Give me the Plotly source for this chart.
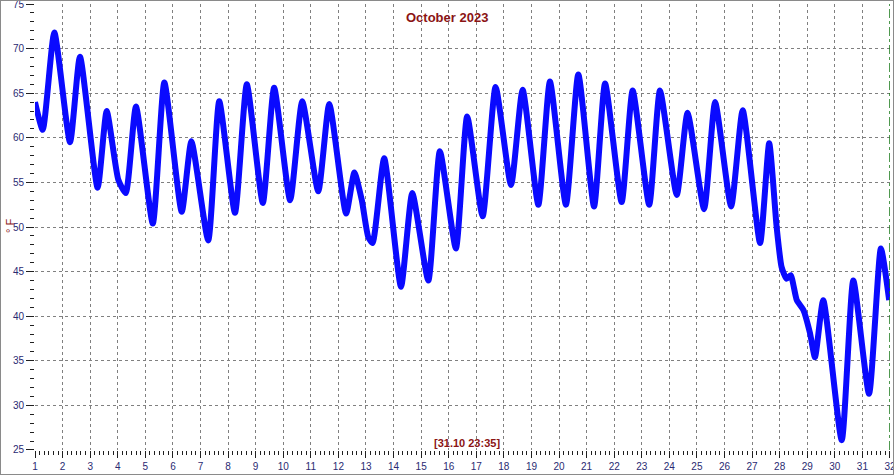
import plotly.graph_objects as go

# Day of month (fractional) and temperature (°F)
days = [1.00, 1.28, 1.70, 2.27, 2.63, 3.27, 3.60, 4.02, 4.29, 4.66, 5.27, 5.69, 6.32, 6.67,
        7.28, 7.68, 8.25, 8.68, 9.26, 9.67, 10.25, 10.69, 11.27, 11.67, 12.28, 12.58, 12.85,
        13.08, 13.24, 13.66, 14.27, 14.68, 15.26, 15.68, 16.26, 16.67, 17.23, 17.70, 18.26,
        18.68, 19.25, 19.67, 20.25, 20.70, 21.27, 21.67, 22.27, 22.67, 23.27, 23.66, 24.27,
        24.66, 25.26, 25.66, 26.24, 26.66, 27.29, 27.62, 27.89, 28.07, 28.25, 28.40, 28.62,
        28.86, 29.10, 29.28, 29.58, 30.25, 30.67, 31.24, 31.67, 31.97]
temps = [64.0, 60.9, 71.8, 59.5, 69.1, 54.4, 63.0, 55.3, 53.8, 63.5, 50.4, 66.2, 51.7, 59.6,
         48.5, 64.1, 51.6, 66.0, 52.7, 65.6, 53.0, 64.1, 54.0, 63.8, 51.5, 56.1, 53.0,
         48.9, 48.2, 57.7, 43.3, 53.8, 44.0, 58.5, 47.6, 62.4, 51.2, 65.7, 54.7,
         65.4, 52.5, 66.3, 52.5, 67.1, 52.3, 66.1, 52.8, 65.3, 52.5, 65.3, 53.6,
         62.8, 52.0, 64.0, 52.3, 63.1, 48.2, 59.4, 50.0, 45.5, 44.2, 44.6, 41.8,
         40.7, 38.1, 35.4, 41.8, 26.1, 44.0, 31.3, 47.6, 41.8]

x_ticks = list(range(1, 33))
y_ticks = list(range(25, 80, 5))

title_text = "October 2023"
stamp_text = "[31.10 23:35]"
unit_text = "° F"

DARKRED = "#8b1414"
NAVY = "#2a2a72"
GRID = "#808080"

L, R, T, B = 35, 4, 4, 25
PW, PH = 894 - L - R, 475 - T - B

fig = go.Figure()
fig.add_trace(go.Scatter(
    x=days, y=temps, mode="lines",
    line=dict(color="#0a0aff", width=6, shape="spline", smoothing=0.55),
    hoverinfo="x+y", showlegend=False,
))

fig.update_layout(
    width=894, height=475,
    margin=dict(l=L, r=R, t=T, b=B, autoexpand=False),
    paper_bgcolor="white", plot_bgcolor="white",
    font=dict(family="Liberation Sans, Arial, sans-serif", size=10, color=NAVY),
    xaxis=dict(
        range=[0.9995, 32.0005], tickmode="array", tickvals=x_ticks, ticktext=[str(v) for v in x_ticks],
        showgrid=True, gridcolor=GRID, griddash="3px,3px", gridwidth=1, automargin=False,
        ticklabeloverflow="allow",
        ticks="outside", ticklen=7, tickcolor="#202020", showline=False, zeroline=False,
        minor=dict(dtick=1/6, tick0=1, ticks="outside", ticklen=4, tickcolor="#202020", showgrid=False),
        tickfont=dict(size=10, color=NAVY),
    ),
    yaxis=dict(
        range=[24.999, 75.001], tickmode="array", tickvals=y_ticks, ticktext=[str(v) for v in y_ticks],
        showgrid=True, gridcolor=GRID, griddash="3px,3px", gridwidth=1, automargin=False,
        ticklabeloverflow="allow",
        ticks="outside", ticklen=8, tickcolor="#202020", showline=False, zeroline=False,
        minor=dict(dtick=1, tick0=25, ticks="outside", ticklen=4, tickcolor="#202020", showgrid=False),
        tickfont=dict(size=10, color=NAVY),
    ),
    shapes=[
        dict(type="line", xref="x", yref="paper", x0=32, x1=32, y0=0, y1=1,
             line=dict(color="#1a7a1a", width=1.5, dash="dashdot")),
        dict(type="rect", xref="paper", yref="paper", x0=-L/PW, x1=1 + R/PW,
             y0=-B/PH, y1=1 + T/PH, line=dict(color="#8a8a8a", width=2)),
    ],
    annotations=[
        dict(text=f"<b>{title_text}</b>", xref="paper", yref="paper", x=(447-L)/PW, y=1 - (18-T)/PH,
             showarrow=False, font=dict(size=13, color=DARKRED, family="Liberation Sans, Arial"),
             xanchor="center", yanchor="middle"),
        dict(text=f"<b>{stamp_text}</b>", xref="paper", yref="paper", x=(467-L)/PW, y=1 - (443-T)/PH,
             showarrow=False, font=dict(size=11, color=DARKRED, family="Liberation Sans, Arial"),
             xanchor="center", yanchor="middle"),
        dict(text=unit_text, xref="paper", yref="paper", x=(10-L)/PW, y=1 - (226-T)/PH,
             showarrow=False, textangle=-90, font=dict(size=11, color=DARKRED, family="Liberation Sans, Arial"),
             xanchor="center", yanchor="middle"),
    ],
)

fig.write_html("out.html", config={"displayModeBar": False},
               post_script="document.body.style.margin='0';document.body.style.overflow='hidden';")
